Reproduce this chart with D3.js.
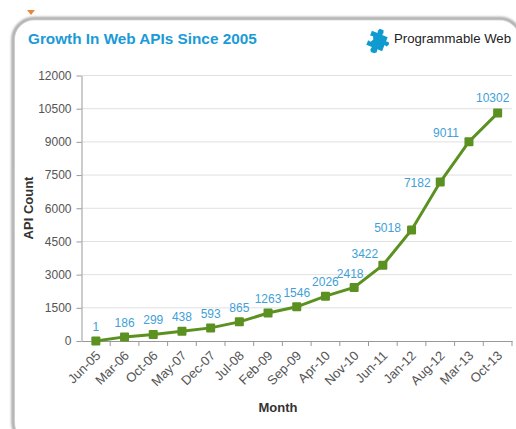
<!DOCTYPE html>
<html>
<head>
<meta charset="utf-8">
<title>Growth In Web APIs Since 2005</title>
<style>
	body { margin: 0; background: #fff; overflow: hidden; }
	svg { display: block; }
	text { font-family: "Liberation Sans", Arial, sans-serif; }
	.domain { stroke: #999; }
	.tick line { stroke: #999; }
	.tick text { font-size: 12px; fill: #555; }
</style>
<script src="https://cdn.jsdelivr.net/npm/d3@7"></script>
</head>
<body>
<div id="chart"></div>
<script>
var months = ["Jun-05","Mar-06","Oct-06","May-07","Dec-07","Jul-08","Feb-09","Sep-09","Apr-10","Nov-10","Jun-11","Jan-12","Aug-12","Mar-13","Oct-13"];
var apiCounts = [1,186,299,438,593,865,1263,1546,2026,2418,3422,5018,7182,9011,10302];
var yTicks = [0,1500,3000,4500,6000,7500,9000,10500,12000];

var width = 516, height = 429;
var margin = {top: 75.5, right: 4, bottom: 88, left: 81.5};

var svg = d3.select("#chart").append("svg")
	.attr("width", width)
	.attr("height", height);

var defs = svg.append("defs");
var blur = defs.append("filter").attr("id", "soft")
	.attr("x", "-5%").attr("y", "-5%").attr("width", "110%").attr("height", "110%");
blur.append("feGaussianBlur").attr("stdDeviation", 1);

// small orange bit above the card
svg.append("path")
	.attr("d", "M27 10 L35 10 L31 15 Z")
	.attr("fill", "#e8873a");

// card with the grey edge
svg.append("rect")
	.attr("x", 13).attr("y", 18.5)
	.attr("width", 508).attr("height", 425)
	.attr("rx", 21)
	.attr("fill", "none")
	.attr("stroke", "#aaa")
	.attr("stroke-width", 3.5)
	.attr("filter", "url(#soft)");
svg.append("rect")
	.attr("x", 15).attr("y", 20.5)
	.attr("width", 504).attr("height", 421)
	.attr("rx", 19)
	.attr("fill", "#fff");

svg.append("text")
	.attr("x", 28).attr("y", 44)
	.attr("font-size", "15.3px")
	.attr("font-weight", "bold")
	.attr("fill", "#1a9ad6")
	.text("Growth In Web APIs Since 2005");

// puzzle piece logo
svg.append("path")
	.attr("transform", "translate(377,41) rotate(22)")
	.attr("fill", "#0f9bd0")
	.attr("d", "M-8.5 -7.5 L-2.5 -7.5 L-3 -10 L-2 -12.5 L2 -12.5 L3 -10 L2.5 -7.5 L8.5 -7.5 L8.5 -3 L11 -3.5 L12.5 -1.5 L11 1.5 L8.5 1 L8.5 7.5 L3.5 7.5 L4 10.5 L2 12.5 L-1.5 12.5 L-3 10.5 L-2.5 7.5 L-8.5 7.5 L-8.5 2.5 L-5.5 3 L-4 0 L-5.5 -3 L-8.5 -2.5 Z");

svg.append("text")
	.attr("x", 394).attr("y", 43)
	.attr("font-size", "13.2px")
	.attr("fill", "#222")
	.text("Programmable Web");

var x = d3.scaleBand()
	.domain(months)
	.range([margin.left, width - margin.right]);

var y = d3.scaleLinear()
	.domain([0, 12000])
	.range([height - margin.bottom, margin.top]);

// grid
svg.append("g")
	.selectAll("line")
	.data(yTicks.slice(1))
	.enter().append("line")
	.attr("x1", margin.left)
	.attr("x2", width - margin.right)
	.attr("y1", function(d) { return y(d); })
	.attr("y2", function(d) { return y(d); })
	.attr("stroke", "#e0e0e0");

// y axis
svg.append("g")
	.attr("transform", "translate(" + margin.left + ",0)")
	.call(d3.axisLeft(y).tickValues(yTicks).tickFormat(d3.format("d")).tickSize(5).tickSizeOuter(0).tickPadding(5));

// x axis, the ticks sit between the months
var xAxis = svg.append("g")
	.attr("transform", "translate(0," + (height - margin.bottom) + ")")
	.call(d3.axisBottom(x).tickSize(0).tickSizeOuter(0));

xAxis.selectAll(".tick text")
	.style("font-size", "13px")
	.attr("text-anchor", "end")
	.attr("dx", "-0.1em")
	.attr("dy", "0.35em")
	.attr("transform", "translate(1,9) rotate(-45)");

xAxis.selectAll(".edge")
	.data(months)
	.enter().append("line")
	.attr("class", "edge")
	.attr("x1", function(d) { return x(d) + x.step(); })
	.attr("x2", function(d) { return x(d) + x.step(); })
	.attr("y1", 0)
	.attr("y2", 5)
	.attr("stroke", "#999");

function px(d) { return x(d) + x.bandwidth() / 2; }

var line = d3.line()
	.x(function(d, i) { return px(months[i]); })
	.y(function(d) { return y(d); });

svg.append("path")
	.datum(apiCounts)
	.attr("d", line)
	.attr("fill", "none")
	.attr("stroke", "#5b9120")
	.attr("stroke-width", 3);

svg.append("g")
	.selectAll("rect")
	.data(apiCounts)
	.enter().append("rect")
	.attr("x", function(d, i) { return px(months[i]) - 4.5; })
	.attr("y", function(d) { return y(d) - 4.5; })
	.attr("width", 9)
	.attr("height", 9)
	.attr("rx", 1)
	.attr("fill", "#5b9120");

// labels go above the point, on the steep part they move to the left
function labelDx(d) {
	if (d >= 7000) return d > 10000 ? -5 : -23;
	if (d >= 5000) return -24;
	if (d >= 3000) return -18;
	if (d >= 2400) return -4;
	return 0;
}
function labelDy(d) {
	if (d > 10000) return -11;
	if (d >= 9000) return -5;
	if (d >= 7000) return 5;
	if (d >= 5000) return 2;
	if (d >= 3000) return -7;
	return -10;
}

svg.append("g")
	.selectAll("text")
	.data(apiCounts)
	.enter().append("text")
	.attr("x", function(d, i) { return px(months[i]) + labelDx(d); })
	.attr("y", function(d) { return y(d) + labelDy(d); })
	.attr("text-anchor", "middle")
	.attr("font-size", "12px")
	.attr("fill", "#3f9fd8")
	.text(function(d) { return d; });

svg.append("text")
	.attr("transform", "translate(33,208) rotate(-90)")
	.attr("text-anchor", "middle")
	.attr("font-size", "13px")
	.attr("font-weight", "bold")
	.attr("fill", "#333")
	.text("API Count");

svg.append("text")
	.attr("x", 278).attr("y", 412)
	.attr("text-anchor", "middle")
	.attr("font-size", "13px")
	.attr("font-weight", "bold")
	.attr("fill", "#333")
	.text("Month");
</script>
</body>
</html>
